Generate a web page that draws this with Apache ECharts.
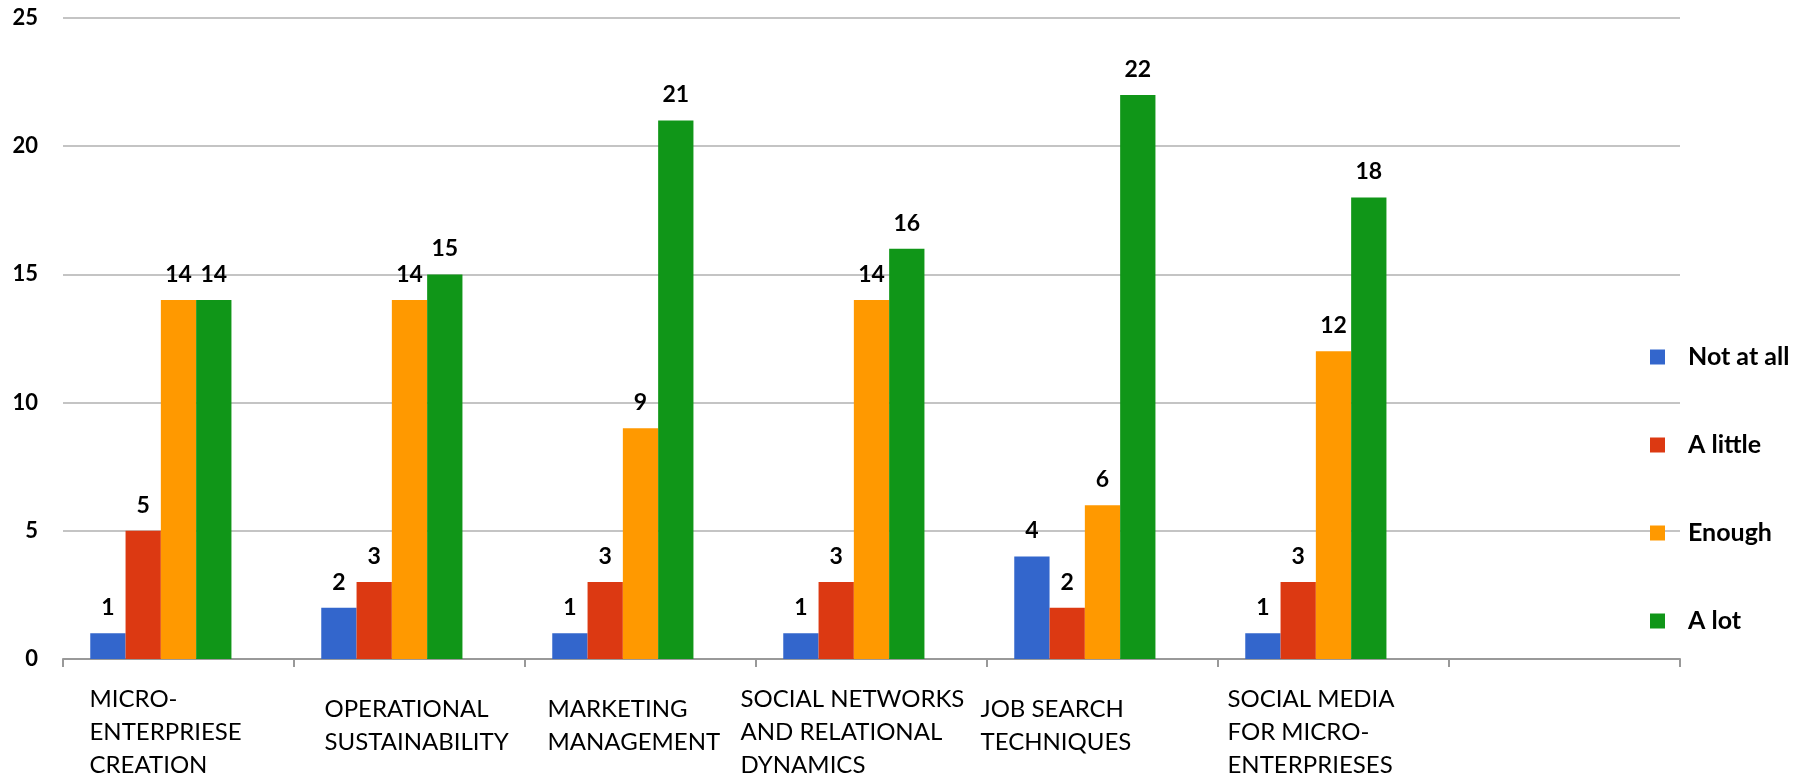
<!DOCTYPE html>
<html>
<head>
<meta charset="utf-8">
<title>Training topics</title>
<script src="https://cdn.jsdelivr.net/npm/echarts@6/dist/echarts.min.js"></script>
<style>
  html, body { margin: 0; padding: 0; background: #ffffff; }
  #chart { width: 1800px; height: 776px; }
</style>
</head>
<body>
<div id="chart"></div>
<script>
// Topics (line breaks are the wrapped label lines); the last slot is left empty.
const categories = [
  'MICRO-\nENTERPRIESE\nCREATION',
  'OPERATIONAL\nSUSTAINABILITY',
  'MARKETING\nMANAGEMENT',
  'SOCIAL NETWORKS\nAND RELATIONAL\nDYNAMICS',
  'JOB SEARCH\nTECHNIQUES',
  'SOCIAL MEDIA\nFOR MICRO-\nENTERPRIESES',
  ''
];
const seriesNames = ['Not at all', 'A little', 'Enough', 'A lot'];
const notAtAll = [1, 2, 1, 1, 4, 1];
const aLittle  = [5, 3, 3, 3, 2, 3];
const enough   = [14, 14, 9, 14, 6, 12];
const aLot     = [14, 15, 21, 16, 22, 18];
const yTicks   = [0, 5, 10, 15, 20, 25];

const colors = ['#3366CC', '#DC3912', '#FF9900', '#109618'];
// horizontal nudge (px) of each wrapped category label block
const labelShift = [11, 15, 7, -31, -22, -6, 0];
// two-line labels sit a little lower than three-line ones
const TWO_LINE_DROP = 10;

const FONT = 'Lato, "Open Sans", sans-serif';

const xData = categories.map((c, i) => {
  const s = labelShift[i];
  const lines = c.split('\n').length;
  const top = lines < 3 ? TWO_LINE_DROP : 0;
  return {
    value: c,
    textStyle: { padding: [top, Math.max(0, -2 * s), 0, Math.max(0, 2 * s)] }
  };
});

const valueSeries = [notAtAll, aLittle, enough, aLot];

const barSeries = valueSeries.map((vals, i) => ({
  name: seriesNames[i],
  type: 'bar',
  data: vals,
  barGap: 0,
  barCategoryGap: '23.6%',
  itemStyle: { color: colors[i] },
  label: {
    show: true,
    position: 'top',
    distance: 14,
    color: '#000',
    fontFamily: FONT,
    fontWeight: 'bold',
    fontSize: 23
  }
}));
// empty trailing slot in every group, keeps the four bars left of centre
barSeries.push({
  name: 'spacer',
  type: 'bar',
  data: [],
  barGap: 0,
  barCategoryGap: '23.6%'
});

const chart = echarts.init(document.getElementById('chart'), null, { renderer: 'canvas' });
chart.setOption({
  animation: false,
  backgroundColor: '#ffffff',
  grid: {
    left: 63, right: 120, top: 18, bottom: 117,
    containLabel: false,
    outerBoundsMode: 'none'
  },
  legend: {
    data: seriesNames,
    orient: 'vertical',
    left: 1645,
    top: 337,
    icon: 'rect',
    itemWidth: 15,
    itemHeight: 15,
    itemGap: 58,
    textStyle: {
      fontFamily: FONT,
      fontWeight: 'bold',
      fontSize: 25,
      lineHeight: 30,
      color: '#000',
      padding: [0, 0, 0, 18]
    }
  },
  xAxis: {
    type: 'category',
    data: xData,
    axisLine: { show: true, lineStyle: { color: '#999999', width: 2 } },
    axisTick: { show: true, length: 8, lineStyle: { color: '#999999', width: 2 } },
    axisLabel: {
      interval: 0,
      margin: 24,
      align: 'center',
      verticalAlign: 'top',
      fontFamily: FONT,
      fontSize: 24,
      color: '#000',
      formatter: v => v.split('\n').map(line => '{l|' + line + '}').join('\n'),
      rich: {
        l: {
          width: 200,
          align: 'left',
          fontFamily: FONT,
          fontSize: 24,
          lineHeight: 33,
          color: '#000'
        }
      }
    }
  },
  yAxis: {
    type: 'value',
    min: yTicks[0],
    max: yTicks[yTicks.length - 1],
    interval: yTicks[1] - yTicks[0],
    axisLine: { show: false },
    axisTick: { show: false },
    splitLine: { lineStyle: { color: '#c4c4c4', width: 2 } },
    axisLabel: {
      margin: 25,
      fontFamily: FONT,
      fontWeight: 'bold',
      fontSize: 22,
      color: '#000'
    }
  },
  series: barSeries
});
</script>
</body>
</html>
